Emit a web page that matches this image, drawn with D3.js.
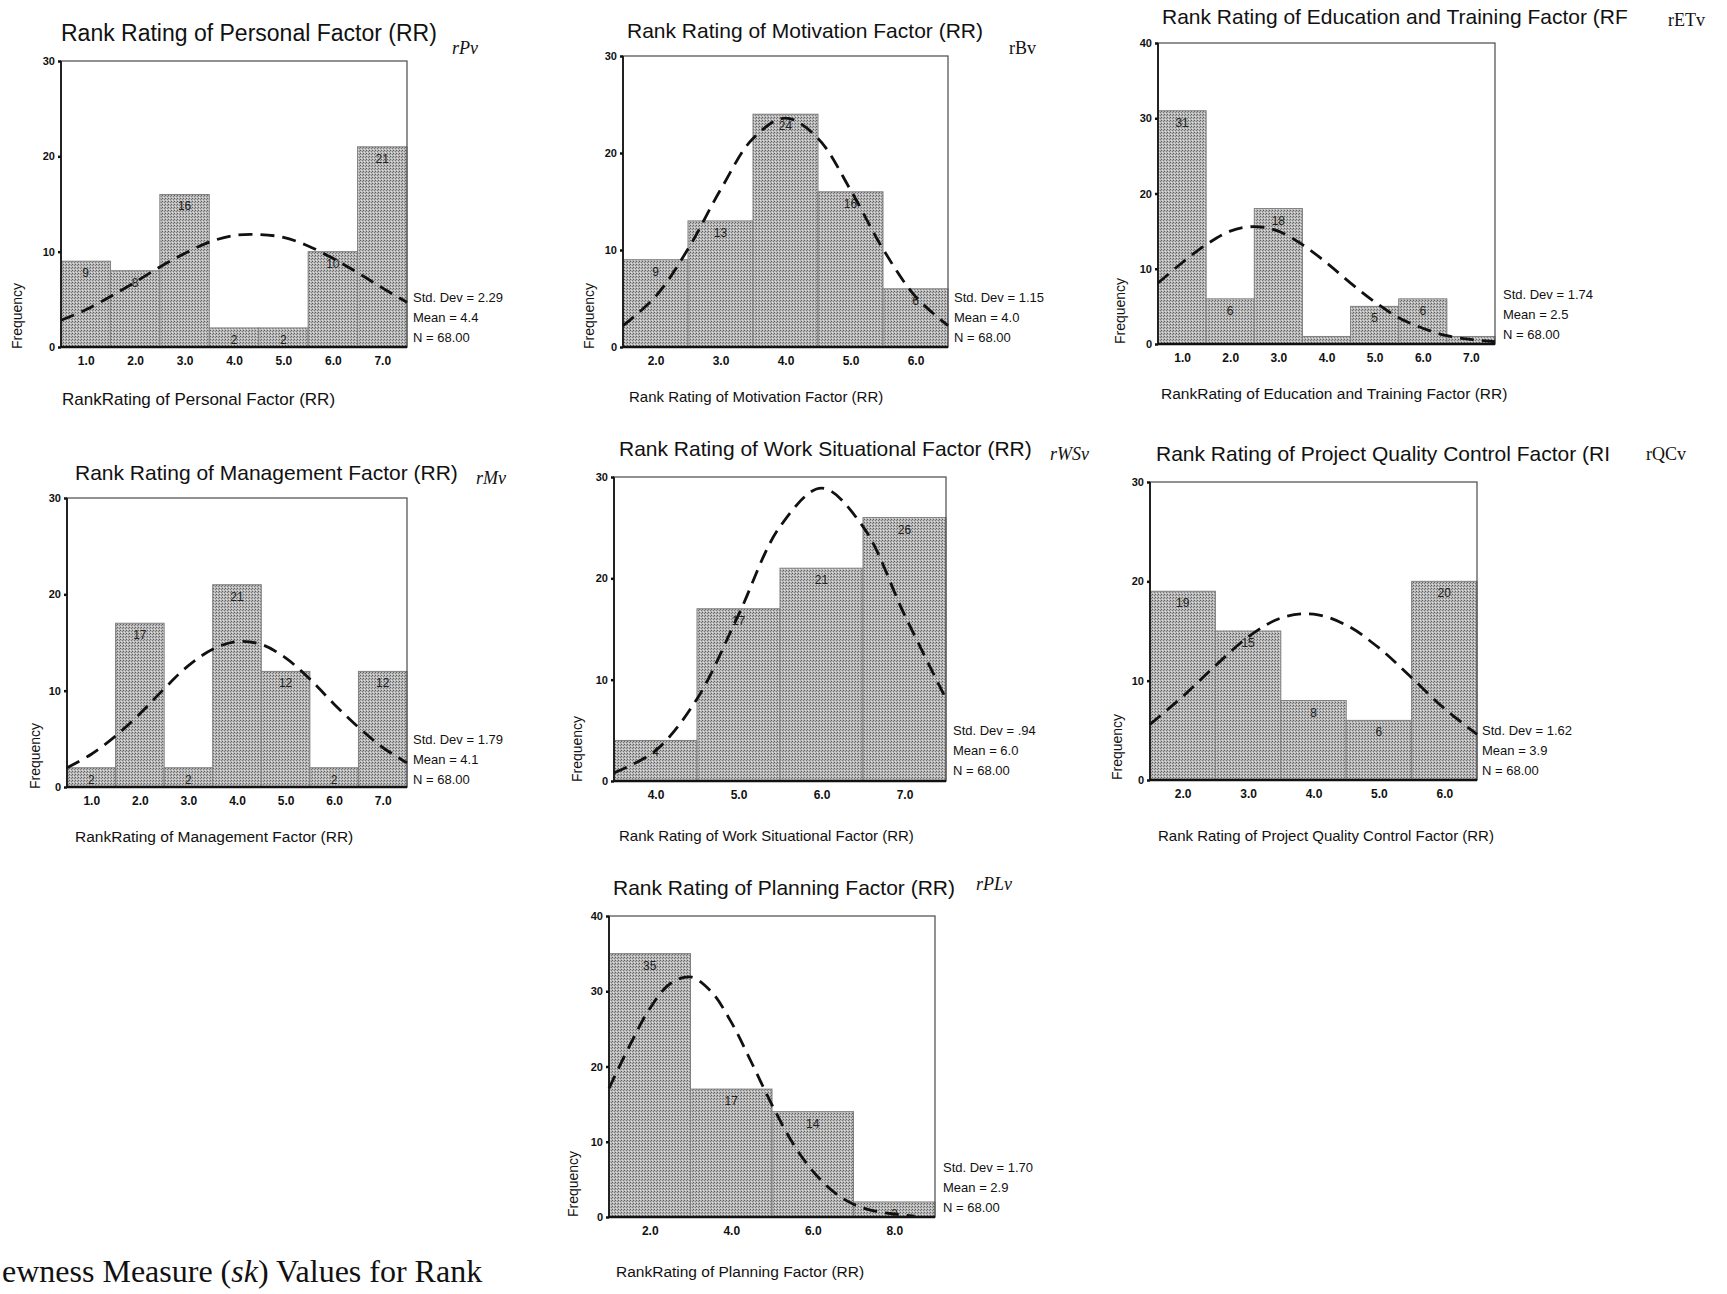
<!DOCTYPE html>
<html>
<head>
<meta charset="utf-8">
<script src="https://cdn.jsdelivr.net/npm/d3@7"></script>
<style>
    body { margin: 0; background: #fff; }
    svg { display: block; }
</style>
</head>
<body>
<div id="chart"></div>
<script>
// Data (bin centres, counts, fitted curve)
const personalBins = [1, 2, 3, 4, 5, 6, 7];
const personalCounts = [9, 8, 16, 2, 2, 10, 21];
const personalCurveX = [0.5, 1, 1.5, 2, 2.5, 3, 3.5, 4, 4.5, 5, 5.5, 6, 6.5, 7, 7.5];
const personalCurveY = [2.8, 3.9, 5.3, 6.8, 8.4, 9.8, 11.0, 11.7, 11.8, 11.5, 10.6, 9.3, 7.8, 6.2, 4.7];
const personalStats = ['Std. Dev = 2.29', 'Mean = 4.4', 'N = 68.00'];

const motivationBins = [2, 3, 4, 5, 6];
const motivationCounts = [9, 13, 24, 16, 6];
const motivationCurveX = [1.5, 2, 2.5, 3, 3.5, 4, 4.5, 5, 5.5, 6, 6.5];
const motivationCurveY = [2.2, 5.2, 10.1, 16.2, 21.5, 23.6, 21.5, 16.2, 10.1, 5.2, 2.2];
const motivationStats = ['Std. Dev = 1.15', 'Mean = 4.0', 'N = 68.00'];

const educationBins = [1, 2, 3, 4, 5, 6, 7];
const educationCounts = [31, 6, 18, 1, 5, 6, 1];
const educationCurveX = [0.5, 1, 1.5, 2, 2.5, 3, 3.5, 4, 4.5, 5, 5.5, 6, 6.5, 7, 7.5];
const educationCurveY = [8.1, 10.8, 13.2, 15.0, 15.6, 15.0, 13.2, 10.8, 8.1, 5.6, 3.5, 2.1, 1.1, 0.6, 0.3];
const educationStats = ['Std. Dev = 1.74', 'Mean = 2.5', 'N = 68.00'];

const managementBins = [1, 2, 3, 4, 5, 6, 7];
const managementCounts = [2, 17, 2, 21, 12, 2, 12];
const managementCurveX = [0.5, 1, 1.5, 2, 2.5, 3, 3.5, 4, 4.5, 5, 5.5, 6, 6.5, 7, 7.5];
const managementCurveY = [2.0, 3.4, 5.3, 7.6, 10.2, 12.6, 14.3, 15.1, 14.8, 13.4, 11.2, 8.6, 6.2, 4.1, 2.5];
const managementStats = ['Std. Dev = 1.79', 'Mean = 4.1', 'N = 68.00'];

const workBins = [4, 5, 6, 7];
const workCounts = [4, 17, 21, 26];
const workCurveX = [3.5, 4, 4.5, 5, 5.5, 6, 6.5, 7, 7.5];
const workCurveY = [0.8, 3.0, 8.1, 16.4, 25.1, 28.9, 25.1, 16.4, 8.1];
const workStats = ['Std. Dev = .94', 'Mean = 6.0', 'N = 68.00'];

const qualityBins = [2, 3, 4, 5, 6];
const qualityCounts = [19, 15, 8, 6, 20];
const qualityCurveX = [1.5, 2, 2.5, 3, 3.5, 4, 4.5, 5, 5.5, 6, 6.5];
const qualityCurveY = [5.6, 8.4, 11.5, 14.4, 16.3, 16.7, 15.6, 13.3, 10.3, 7.2, 4.6];
const qualityStats = ['Std. Dev = 1.62', 'Mean = 3.9', 'N = 68.00'];

const planningBins = [2, 4, 6, 8];
const planningCounts = [35, 17, 14, 2];
const planningCurveX = [1, 1.5, 2, 2.5, 3, 3.5, 4, 4.5, 5, 5.5, 6, 6.5, 7, 7.5, 8, 8.5];
const planningCurveY = [17.1, 22.7, 27.7, 31.0, 31.9, 30.0, 25.9, 20.5, 14.9, 9.9, 6.1, 3.4, 1.7, 0.8, 0.4, 0.1];
const planningStats = ['Std. Dev = 1.70', 'Mean = 2.9', 'N = 68.00'];

const ticks30 = [0, 10, 20, 30];
const ticks40 = [0, 10, 20, 30, 40];

// Panel layout
const panels = [
    { title: 'Rank Rating of Personal Factor (RR)', tag: 'rPv', tagItalic: true,
      axisTitle: 'RankRating of Personal Factor (RR)',
      bins: personalBins, counts: personalCounts, binWidth: 1, curveX: personalCurveX, curveY: personalCurveY,
      stats: personalStats, xTicks: personalBins, yTicks: ticks30,
      l: 61, r: 407, t: 61, b: 347, titleX: 61, titleY: 41, titleSize: 23, tagX: 452, tagY: 54,
      axX: 62, axY: 405, axSize: 17, freqX: 22, freqY: 316, statX: 413, statY: 302 },
    { title: 'Rank Rating of Motivation Factor (RR)', tag: 'rBv', tagItalic: false,
      axisTitle: 'Rank Rating of Motivation Factor (RR)',
      bins: motivationBins, counts: motivationCounts, binWidth: 1, curveX: motivationCurveX, curveY: motivationCurveY,
      stats: motivationStats, xTicks: motivationBins, yTicks: ticks30,
      l: 623, r: 948, t: 56, b: 347, titleX: 627, titleY: 38, titleSize: 21, tagX: 1009, tagY: 54,
      axX: 629, axY: 402, axSize: 15, freqX: 594, freqY: 316, statX: 954, statY: 302 },
    { title: 'Rank Rating of  Education and Training Factor (RF', tag: 'rETv', tagItalic: false,
      axisTitle: 'RankRating of Education and Training Factor (RR)',
      bins: educationBins, counts: educationCounts, binWidth: 1, curveX: educationCurveX, curveY: educationCurveY,
      stats: educationStats, xTicks: educationBins, yTicks: ticks40,
      l: 1158, r: 1495, t: 43, b: 344, titleX: 1162, titleY: 24, titleSize: 21, tagX: 1668, tagY: 26,
      axX: 1161, axY: 399, axSize: 15.5, freqX: 1125, freqY: 311, statX: 1503, statY: 299 },
    { title: 'Rank Rating of Management Factor (RR)', tag: 'rMv', tagItalic: true,
      axisTitle: 'RankRating of Management Factor (RR)',
      bins: managementBins, counts: managementCounts, binWidth: 1, curveX: managementCurveX, curveY: managementCurveY,
      stats: managementStats, xTicks: managementBins, yTicks: ticks30,
      l: 67, r: 407, t: 498, b: 787, titleX: 75, titleY: 480, titleSize: 21, tagX: 476, tagY: 484,
      axX: 75, axY: 842, axSize: 15.5, freqX: 40, freqY: 756, statX: 413, statY: 744 },
    { title: 'Rank Rating of Work Situational Factor (RR)', tag: 'rWSv', tagItalic: true,
      axisTitle: 'Rank Rating of Work Situational Factor (RR)',
      bins: workBins, counts: workCounts, binWidth: 1, curveX: workCurveX, curveY: workCurveY,
      stats: workStats, xTicks: workBins, yTicks: ticks30,
      l: 614, r: 946, t: 477, b: 781, titleX: 619, titleY: 456, titleSize: 21, tagX: 1050, tagY: 460,
      axX: 619, axY: 841, axSize: 15, freqX: 582, freqY: 749, statX: 953, statY: 735 },
    { title: 'Rank Rating of Project Quality Control Factor (RI', tag: 'rQCv', tagItalic: false,
      axisTitle: 'Rank Rating of Project Quality Control Factor (RR)',
      bins: qualityBins, counts: qualityCounts, binWidth: 1, curveX: qualityCurveX, curveY: qualityCurveY,
      stats: qualityStats, xTicks: qualityBins, yTicks: ticks30,
      l: 1150, r: 1477, t: 482, b: 780, titleX: 1156, titleY: 461, titleSize: 21, tagX: 1646, tagY: 460,
      axX: 1158, axY: 841, axSize: 15, freqX: 1122, freqY: 747, statX: 1482, statY: 735 },
    { title: 'Rank Rating of Planning Factor (RR)', tag: 'rPLv', tagItalic: true,
      axisTitle: 'RankRating of Planning Factor (RR)',
      bins: planningBins, counts: planningCounts, binWidth: 2, curveX: planningCurveX, curveY: planningCurveY,
      stats: planningStats, xTicks: planningBins, yTicks: ticks40,
      l: 609, r: 935, t: 916, b: 1217, titleX: 613, titleY: 895, titleSize: 21, tagX: 976, tagY: 890,
      axX: 616, axY: 1277, axSize: 15.5, freqX: 578, freqY: 1184, statX: 943, statY: 1172 }
];

const svg = d3.select('#chart').append('svg')
    .attr('width', 1727)
    .attr('height', 1294)
    .style('font-family', '"Liberation Sans", Arial, sans-serif');

// halftone-like grey fill
const pat = svg.append('defs').append('pattern')
    .attr('id', 'halftone')
    .attr('width', 3).attr('height', 3)
    .attr('patternUnits', 'userSpaceOnUse');
pat.append('rect').attr('width', 3).attr('height', 3).attr('fill', '#b8b8b8');
pat.append('rect').attr('x', 0).attr('y', 0).attr('width', 1).attr('height', 1).attr('fill', '#5e5e5e');
pat.append('rect').attr('x', 2).attr('y', 1).attr('width', 1).attr('height', 1).attr('fill', '#7c7c7c');
pat.append('rect').attr('x', 1).attr('y', 2).attr('width', 1).attr('height', 1).attr('fill', '#e0e0e0');

function drawPanel(p) {
    const g = svg.append('g');

    const x = d3.scaleLinear()
        .domain([p.bins[0] - p.binWidth / 2, p.bins[p.bins.length - 1] + p.binWidth / 2])
        .range([p.l, p.r]);
    const y = d3.scaleLinear()
        .domain([0, p.yTicks[p.yTicks.length - 1]])
        .range([p.b, p.t]);

    const barData = p.bins.map((c, i) => ({ c, v: p.counts[i] }));

    g.selectAll('.bar')
        .data(barData)
        .enter().append('rect')
        .attr('class', 'bar')
        .attr('x', d => x(d.c - p.binWidth / 2))
        .attr('y', d => y(d.v))
        .attr('width', d => x(d.c + p.binWidth / 2) - x(d.c - p.binWidth / 2))
        .attr('height', d => y(0) - y(d.v))
        .attr('fill', 'url(#halftone)')
        .attr('stroke', '#808080')
        .attr('stroke-width', 1);

    g.selectAll('.barlabel')
        .data(barData.filter(d => d.v >= 2))
        .enter().append('text')
        .attr('x', d => x(d.c))
        .attr('y', d => y(d.v) + 16)
        .attr('text-anchor', 'middle')
        .style('font-size', '12px')
        .attr('fill', '#222')
        .text(d => d.v);

    // frame
    g.append('rect')
        .attr('x', p.l).attr('y', p.t)
        .attr('width', p.r - p.l).attr('height', p.b - p.t)
        .attr('fill', 'none')
        .attr('stroke', '#4a4a4a')
        .attr('stroke-width', 1.2);
    g.append('line')
        .attr('x1', p.l).attr('x2', p.l).attr('y1', p.t).attr('y2', p.b)
        .attr('stroke', '#222').attr('stroke-width', 2);
    g.append('line')
        .attr('x1', p.l).attr('x2', p.r).attr('y1', p.b).attr('y2', p.b)
        .attr('stroke', '#111').attr('stroke-width', 2.5);

    // fitted normal curve
    const line = d3.line()
        .x(d => x(d[0]))
        .y(d => y(d[1]))
        .curve(d3.curveCatmullRom);
    g.append('path')
        .datum(p.curveX.map((v, i) => [v, p.curveY[i]]))
        .attr('d', line)
        .attr('fill', 'none')
        .attr('stroke', '#111')
        .attr('stroke-width', 2.8)
        .attr('stroke-dasharray', '14,8');

    // axes
    const ya = g.append('g')
        .attr('transform', `translate(${p.l},0)`)
        .call(d3.axisLeft(y).tickValues(p.yTicks).tickSize(3).tickSizeOuter(0).tickPadding(3).tickFormat(d3.format('d')));
    ya.select('.domain').remove();
    ya.selectAll('line').attr('stroke', '#111').attr('stroke-width', 2.5);
    ya.selectAll('text').style('font-size', '11px').style('font-weight', 'bold').attr('fill', '#111');

    const xa = g.append('g')
        .attr('transform', `translate(0,${p.b})`)
        .call(d3.axisBottom(x).tickValues(p.xTicks).tickSize(0).tickPadding(9).tickFormat(d3.format('.1f')));
    xa.select('.domain').remove();
    xa.selectAll('text').style('font-size', '12px').style('font-weight', 'bold').attr('fill', '#111');

    // texts
    g.append('text')
        .attr('x', p.titleX).attr('y', p.titleY)
        .style('font-size', p.titleSize + 'px')
        .attr('fill', '#111')
        .text(p.title);

    g.append('text')
        .attr('x', p.tagX).attr('y', p.tagY)
        .style('font-family', '"Liberation Serif", "Times New Roman", serif')
        .style('font-style', p.tagItalic ? 'italic' : 'normal')
        .style('font-size', '18px')
        .attr('fill', '#111')
        .text(p.tag);

    g.append('text')
        .attr('x', p.axX).attr('y', p.axY)
        .style('font-size', p.axSize + 'px')
        .attr('fill', '#111')
        .text(p.axisTitle);

    g.append('text')
        .attr('transform', `translate(${p.freqX},${p.freqY}) rotate(-90)`)
        .attr('text-anchor', 'middle')
        .style('font-size', '14px')
        .attr('fill', '#111')
        .text('Frequency');

    g.selectAll('.stat')
        .data(p.stats)
        .enter().append('text')
        .attr('x', p.statX)
        .attr('y', (d, i) => p.statY + i * 20)
        .style('font-size', '13px')
        .attr('fill', '#111')
        .text(d => d);
}

panels.forEach(drawPanel);

// caption fragment at the bottom-left edge of the page
const cap = svg.append('text')
    .attr('x', 2)
    .attr('y', 1282)
    .style('font-family', '"Liberation Serif", "Times New Roman", serif')
    .style('font-size', '32px')
    .attr('fill', '#111');
cap.append('tspan').text('ewness Measure (');
cap.append('tspan').style('font-style', 'italic').text('sk');
cap.append('tspan').text(') Values for Rank');
</script>
</body>
</html>
